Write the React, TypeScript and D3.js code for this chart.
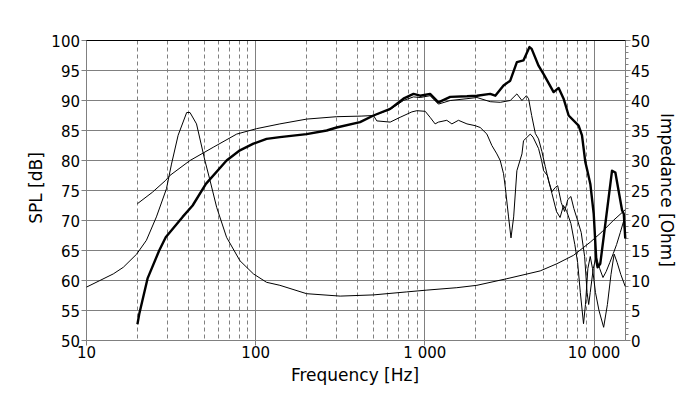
import * as d3 from "d3";

// on-axis SPL (thick)
const freqOn = [20, 20.5, 23, 26.9, 29.4, 37, 42.4, 50.8, 67.3, 80.7, 97, 116, 139, 200, 263, 301, 414, 497, 624, 747, 857, 938, 1074, 1203, 1412, 1774, 2032, 2434, 2608, 2918, 3197, 3500, 3831, 4156, 4280, 4700, 5035, 5770, 6180, 6610, 7080, 8110, 8490, 8890, 9100, 9510, 9960, 10320, 10500, 10890, 11400, 12780, 13370, 14650, 15000, 15300];
const splOn = [52.7, 54.4, 60.4, 65, 67.2, 70.6, 72.5, 76.1, 80, 81.7, 82.8, 83.6, 83.9, 84.4, 85, 85.5, 86.4, 87.5, 88.6, 90.3, 91.1, 90.8, 91.1, 89.7, 90.6, 90.7, 90.8, 91.1, 90.8, 92.5, 93.3, 96.4, 96.7, 98.9, 98.6, 95.8, 94.4, 91.4, 92.1, 90.3, 87.5, 85.8, 84.2, 79.7, 78.5, 76.1, 71.1, 63.3, 62.2, 62.8, 67.2, 78.3, 78, 71.7, 71.1, 67];

// 30 degrees (thin, follows on-axis)
const freq30 = [497, 624, 747, 857, 938, 1074, 1203, 1412, 1774, 2032, 2434, 2790, 3197, 3500, 3750, 3985, 4105, 4280, 4500, 4700, 4920, 5150, 5400, 5640, 5900, 6100, 6400, 6700, 7000, 7300, 7600, 8000, 8400, 8800, 9100, 9300, 9500, 9900, 10300, 10800, 11300, 11800, 12400, 13000, 13600, 14300, 15000, 15300];
const spl30 = [87.5, 88.5, 90, 90.6, 90.5, 90.8, 89.4, 90, 90.3, 90.5, 89.8, 89.7, 90, 91.1, 90, 90.8, 90.3, 87.5, 84.5, 83.6, 81.5, 79, 76.5, 74.8, 75.5, 75.8, 73, 71.5, 73.5, 74, 72, 70, 68, 64, 58, 56, 58, 62, 64, 62, 60.5, 61.5, 63, 64.5, 66, 68, 70, 67];

// 60 degrees (thin, starts smooth at 20 Hz)
const freq60 = [20, 24.5, 29.4, 31.1, 40.9, 56.1, 77.2, 101, 139, 200, 301, 420, 497, 520, 624, 714, 838, 897, 1005, 1074, 1150, 1203, 1348, 1445, 1580, 1774, 1987, 2125, 2327, 2490, 2665, 2790, 2918, 2987, 3125, 3230, 3350, 3500, 3750, 3830, 4200, 4360, 4700, 4900, 5035, 5300, 5640, 6000, 6300, 6600, 6900, 7300, 7700, 8000, 8300, 8670, 8900, 9200, 9500, 9800, 10200, 10700, 11400, 12000, 12600, 13150, 13700, 14400, 15300];
const spl60 = [72.8, 74.7, 76.7, 77.5, 80, 82.2, 84.4, 85.3, 86.1, 86.9, 87.3, 87.4, 87.5, 86.6, 86.4, 87.2, 88.1, 88.3, 88.2, 87.2, 86.1, 86.4, 86.7, 86.1, 86.7, 86.1, 85.8, 85.5, 84.4, 82.5, 81.1, 80, 77.8, 75.6, 70.6, 67.1, 70.6, 78.3, 81.1, 83.3, 84.4, 83.9, 82, 80, 78.3, 77.5, 74.5, 71.5, 70.5, 72.5, 71.5, 69.5, 66, 63, 58, 52.8, 56, 62, 64, 62, 58, 55, 52.2, 56, 61, 64.4, 63, 61, 59];

// impedance [Ohm]
const freqZ = [10, 12, 14.4, 16.5, 19.8, 22.6, 25.9, 29.7, 31.8, 34.8, 39.1, 40.9, 44.7, 50.1, 53.7, 58.8, 67.3, 80.7, 97, 116, 139, 200, 316, 497, 782, 1028, 1545, 2032, 3055, 4808, 6040, 7570, 9510, 11140, 13000, 15300];
const ohm = [8.9, 10, 11.1, 12.2, 14.4, 16.7, 20.6, 25.3, 29.4, 34.2, 38, 38, 36.1, 30, 26.7, 22.2, 17.2, 13.3, 11.1, 9.7, 9.2, 7.8, 7.4, 7.6, 8.1, 8.4, 8.8, 9.2, 10.3, 11.6, 12.8, 14.2, 16.4, 18.1, 20, 21.8];

const splTicks = [50, 55, 60, 65, 70, 75, 80, 85, 90, 95, 100];
const ohmTicks = [0, 5, 10, 15, 20, 25, 30, 35, 40, 45, 50];
const decades = [10, 100, 1000, 10000];
const decadeLabels = ["10", "100", "1 000", "10 000"];

const W = 700;
const H = 399;
const L = 86.5;
const R = 625.5;
const T = 40.5;
const B = 340.5;
const font = "DejaVu Sans, Verdana, sans-serif";
const grid = "#808080";

export default function App() {
  const x = d3.scaleLog().domain([10, 15350]).range([L, R]);
  const y = d3.scaleLinear().domain([50, 100]).range([B, T]);
  const yz = d3.scaleLinear().domain([0, 50]).range([B, T]);
  const px = (v: number) => Math.floor(v) + 0.5;

  const minors: number[] = [];
  [10, 100, 1000].forEach((d) => {
    for (let k = 2; k <= 9; k++) minors.push(d * k);
  });

  const splLine = (fs: number[], vs: number[]) =>
    d3.line<number>().x((_, i) => x(fs[i])).y((v) => y(v))(vs) ?? "";
  const zLine = d3.line<number>().x((_, i) => x(freqZ[i])).y((v) => yz(v))(ohm) ?? "";

  const ohmMinor = d3.range(0, 51).filter((v) => v % 5 !== 0);

  return (
    <svg width={W} height={H} style={{ position: "absolute", left: 0, top: 0, background: "#fff" }}>
      {/* minor dashed freq grid */}
      {minors.filter((f) => x(f) < R).map((f) => (
        <line key={"m" + f} x1={px(x(f))} x2={px(x(f))} y1={T} y2={B} stroke={grid} strokeDasharray="4,3" />
      ))}
      {/* major freq grid */}
      {decades.slice(1).map((f) => (
        <line key={"d" + f} x1={px(x(f))} x2={px(x(f))} y1={T} y2={B + 5} stroke={grid} />
      ))}
      {/* horizontal grid */}
      {splTicks.map((v) => (
        <line key={"h" + v} x1={L - 5} x2={R} y1={px(y(v))} y2={px(y(v))} stroke={grid} />
      ))}
      {/* right axis ticks */}
      {ohmMinor.map((v) => (
        <line key={"z" + v} x1={R} x2={R + 3} y1={px(yz(v))} y2={px(yz(v))} stroke={grid} />
      ))}
      {ohmTicks.map((v) => (
        <line key={"zt" + v} x1={R} x2={R + 5} y1={px(yz(v))} y2={px(yz(v))} stroke={grid} />
      ))}
      {/* frame */}
      <line x1={L} x2={L} y1={T} y2={B + 5} stroke={grid} />
      <line x1={R} x2={R} y1={T} y2={B} stroke={grid} />
      <line x1={L} x2={R} y1={B} y2={B} stroke={grid} />
      <line x1={L} x2={R} y1={T} y2={T} stroke="#000" />

      {/* curves */}
      <g fill="none" stroke="#000" strokeLinejoin="round">
        <path d={zLine} strokeWidth={1} />
        <path d={splLine(freq60, spl60)} strokeWidth={1} />
        <path d={splLine(freq30, spl30)} strokeWidth={1} />
        <path d={splLine(freqOn, splOn)} strokeWidth={2.4} />
      </g>

      {/* tick labels */}
      <g fontFamily={font} fontSize={15} fill="#000">
        {splTicks.map((v) => (
          <text key={"lt" + v} x={80} y={y(v) + 6} textAnchor="end">{v}</text>
        ))}
        {ohmTicks.map((v) => (
          <text key={"rt" + v} x={631} y={yz(v) + 6}>{v}</text>
        ))}
        {decades.map((f, i) => (
          <text key={"bt" + f} x={x(f)} y={357.5} textAnchor="middle">{decadeLabels[i]}</text>
        ))}
      </g>

      {/* axis titles */}
      <g fontFamily={font} fontSize={17} fill="#000">
        <text x={355} y={381} textAnchor="middle">Frequency [Hz]</text>
        <text transform="translate(42,188) rotate(-90)" textAnchor="middle">SPL [dB]</text>
        <text transform="translate(661,190) rotate(90)" textAnchor="middle">Impedance [Ohm]</text>
      </g>
    </svg>
  );
}
